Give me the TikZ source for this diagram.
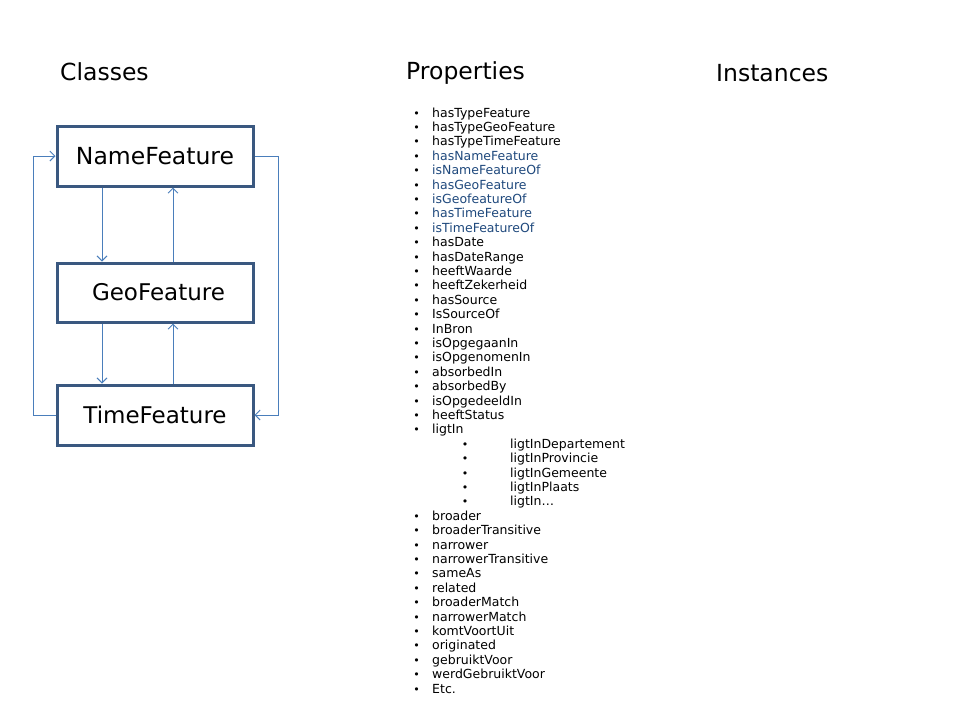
\documentclass[tikz,border=0pt]{standalone}
\usepackage{fontspec}
\setmainfont{DejaVu Sans}
\usetikzlibrary{arrows.meta}
\definecolor{boxc}{HTML}{3A5880}
\definecolor{arrc}{HTML}{4A7EBB}
\definecolor{bluet}{HTML}{1F497D}
\tikzset{
 cls/.style={draw=boxc, line width=3pt, minimum width=196pt, minimum height=60pt, inner sep=0pt, font=\fontsize{23}{27}\selectfont},
 head/.style={anchor=base west, inner sep=0pt, font=\fontsize{23.5}{28}\selectfont},
 prop/.style={anchor=base west, inner sep=0pt, font=\fontsize{12.5}{15}\selectfont},
 bul/.style={anchor=base, inner sep=0pt, font=\fontsize{11}{13}\selectfont},
 conn/.style={draw=arrc, line width=0.9pt, -{Straight Barb[length=5pt,width=10pt]}},
}
\begin{document}
\begin{tikzpicture}[x=1pt,y=-1pt]
\useasboundingbox (0,0) rectangle (960,720);
\fill[white] (0,0) rectangle (960,720);
% headings
\node[head] (hc) at (60,80) {Classes};
\node[head] (hp) at (406,79) {Properties};
\node[head] (hi) at (716,81) {Instances};
% classes
\node[cls, font=\fontsize{23.5}{28}\selectfont] (nf) at (155,156) {NameFeature\hspace{4pt}};
\node[cls, minimum height=59pt] (gf) at (155,292.5) {\hspace{7pt}GeoFeature};
\node[cls] (tf) at (155,415) {TimeFeature};
% connectors
\draw[conn] ([xshift=-53pt]nf.south) -- ([xshift=-53pt]gf.north);
\draw[conn] ([xshift=18pt]gf.north) -- ([xshift=18pt]nf.south);
\draw[conn] ([xshift=-53pt]gf.south) -- ([xshift=-53pt]tf.north);
\draw[conn] ([xshift=18pt]tf.north) -- ([xshift=18pt]gf.south);
\draw[conn] (tf.west) -- ++(-22,0) |- (nf.west);
\draw[conn] (nf.east) -- ++(24,0) |- (tf.east);
% properties
\foreach \t/\c/\l [count=\i from 0] in {
 hasTypeFeature/black/0, hasTypeGeoFeature/black/0, hasTypeTimeFeature/black/0,
 hasNameFeature/bluet/0, isNameFeatureOf/bluet/0, hasGeoFeature/bluet/0,
 isGeofeatureOf/bluet/0, hasTimeFeature/bluet/0, isTimeFeatureOf/bluet/0,
 hasDate/black/0, hasDateRange/black/0, heeftWaarde/black/0, heeftZekerheid/black/0,
 hasSource/black/0, IsSourceOf/black/0, InBron/black/0, isOpgegaanIn/black/0,
 isOpgenomenIn/black/0, absorbedIn/black/0, absorbedBy/black/0, isOpgedeeldIn/black/0,
 heeftStatus/black/0, ligtIn/black/0,
 ligtInDepartement/black/1, ligtInProvincie/black/1, ligtInGemeente/black/1,
 ligtInPlaats/black/1, ligtIn…/black/1,
 broader/black/0, broaderTransitive/black/0, narrower/black/0, narrowerTransitive/black/0,
 sameAs/black/0, related/black/0, broaderMatch/black/0, narrowerMatch/black/0,
 komtVoortUit/black/0, originated/black/0, gebruiktVoor/black/0,
 werdGebruiktVoor/black/0, Etc./black/0}
{
  \pgfmathsetmacro\yy{117+14.4*\i}
  \pgfmathsetmacro\bx{\l==0 ? 416.5 : 465}
  \pgfmathsetmacro\tx{\l==0 ? 432 : 510}
  \node[bul] (b\i) at (\bx,\yy) {•};
  \node[prop, text=\c] (p\i) at (\tx,\yy) {\t};
}
\end{tikzpicture}
\end{document}
